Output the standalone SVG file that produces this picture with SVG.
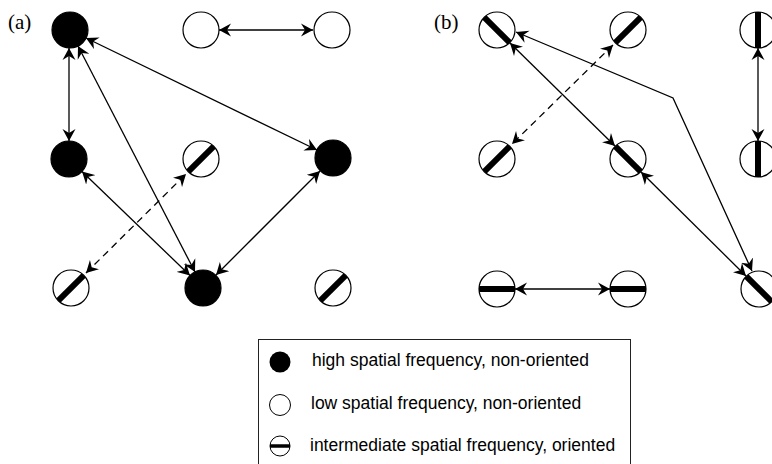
<svg xmlns="http://www.w3.org/2000/svg" width="772" height="464" viewBox="0 0 772 464">
<style>
.lbl{font-family:"Liberation Serif","Times New Roman",serif;font-size:21px;fill:#000}
.leg{font-family:"Liberation Sans",Arial,sans-serif;font-size:17.5px;fill:#000}
.open{fill:#fff;stroke:#000;stroke-width:1.2}
.full{fill:#000;stroke:#000;stroke-width:1.2}
.bar{stroke:#000;stroke-width:6;stroke-linecap:butt}
.con{fill:none;stroke:#000;stroke-width:1.3;marker-start:url(#ah);marker-end:url(#ah)}
.dash{stroke-dasharray:7,5}
</style>
<defs>
<marker id="ah" markerUnits="userSpaceOnUse" viewBox="-12 -7 13 14" markerWidth="13" markerHeight="14" refX="0" refY="0" orient="auto-start-reverse">
<path d="M0,0 L-12,-6.5 L-8,0 L-12,6.5 Z" fill="#000"/>
</marker>
</defs>
<rect width="772" height="464" fill="#fff"/>
<text class="lbl" x="8" y="29">(a)</text>
<text class="lbl" x="434" y="29">(b)</text>

<g id="connectors">
<line class="con" x1="219" y1="30" x2="313" y2="30"/>
<line class="con" x1="69" y1="48" x2="69" y2="141"/>
<line class="con" x1="78" y1="46" x2="195" y2="272"/>
<line class="con" x1="86" y1="38" x2="317" y2="150"/>
<line class="con" x1="82" y1="171.5" x2="190" y2="275.5"/>
<line class="con" x1="320" y1="171" x2="216" y2="275"/>
<line class="con dash" x1="86" y1="273" x2="186" y2="174"/>
<line class="con" x1="510" y1="43" x2="615" y2="146"/>
<polyline class="con" points="516,32 673,98 752,271"/>
<line class="con" x1="641" y1="172" x2="746" y2="276"/>
<line class="con dash" x1="613" y1="45" x2="512" y2="144"/>
<line class="con" x1="758" y1="48" x2="758" y2="141"/>
<line class="con" x1="515" y1="289" x2="610" y2="289"/>
</g>

<g id="A1"><circle class="full" cx="70" cy="30" r="18"/></g>
<g id="A2"><circle class="open" cx="201" cy="30" r="18"/></g>
<g id="A3"><circle class="open" cx="332" cy="30" r="18"/></g>
<g id="B1"><circle class="full" cx="69" cy="159" r="18"/></g>
<g id="B2"><circle class="open" cx="201" cy="159" r="18"/><line class="bar" x1="188.3" y1="171.7" x2="213.7" y2="146.3"/></g>
<g id="B3"><circle class="full" cx="333" cy="158" r="18"/></g>
<g id="C1"><circle class="open" cx="71" cy="288" r="18"/><line class="bar" x1="58.3" y1="300.7" x2="83.7" y2="275.3"/></g>
<g id="C2"><circle class="full" cx="203" cy="288" r="18"/></g>
<g id="C3"><circle class="open" cx="333" cy="288" r="18"/><line class="bar" x1="320.3" y1="300.7" x2="345.7" y2="275.3"/></g>

<g id="D1"><circle class="open" cx="497" cy="30" r="18"/><line class="bar" x1="484.3" y1="17.3" x2="509.7" y2="42.7"/></g>
<g id="D2"><circle class="open" cx="628" cy="30" r="18"/><line class="bar" x1="615.3" y1="42.7" x2="640.7" y2="17.3"/></g>
<g id="D3"><circle class="open" cx="758" cy="30" r="18"/><line class="bar" x1="758" y1="12" x2="758" y2="48"/></g>
<g id="E1"><circle class="open" cx="497" cy="159" r="18"/><line class="bar" x1="484.3" y1="171.7" x2="509.7" y2="146.3"/></g>
<g id="E2"><circle class="open" cx="628" cy="159" r="18"/><line class="bar" x1="615.3" y1="146.3" x2="640.7" y2="171.7"/></g>
<g id="E3"><circle class="open" cx="758" cy="159" r="18"/><line class="bar" x1="758" y1="141" x2="758" y2="177"/></g>
<g id="F1"><circle class="open" cx="497" cy="289" r="18"/><line class="bar" x1="479" y1="289" x2="515" y2="289"/></g>
<g id="F2"><circle class="open" cx="628" cy="289" r="18"/><line class="bar" x1="610" y1="289" x2="646" y2="289"/></g>
<g id="F3"><circle class="open" cx="759" cy="289" r="18"/><line class="bar" x1="746.3" y1="276.3" x2="771.7" y2="301.7"/></g>

<g id="legend">
<rect x="258.5" y="339.5" width="372" height="140" fill="none" stroke="#222" stroke-width="1"/>
<circle cx="280" cy="362" r="10.5" fill="#000"/>
<text class="leg" x="312" y="366">high spatial frequency, non-oriented</text>
<circle cx="280" cy="405" r="10.5" fill="#fff" stroke="#000" stroke-width="1"/>
<text class="leg" x="311" y="409">low spatial frequency, non-oriented</text>
<circle cx="280" cy="446" r="10" fill="#fff" stroke="#000" stroke-width="1"/>
<line x1="270" y1="446" x2="290" y2="446" stroke="#000" stroke-width="3.5"/>
<text class="leg" x="310" y="451">intermediate spatial frequency, oriented</text>
</g>
</svg>
